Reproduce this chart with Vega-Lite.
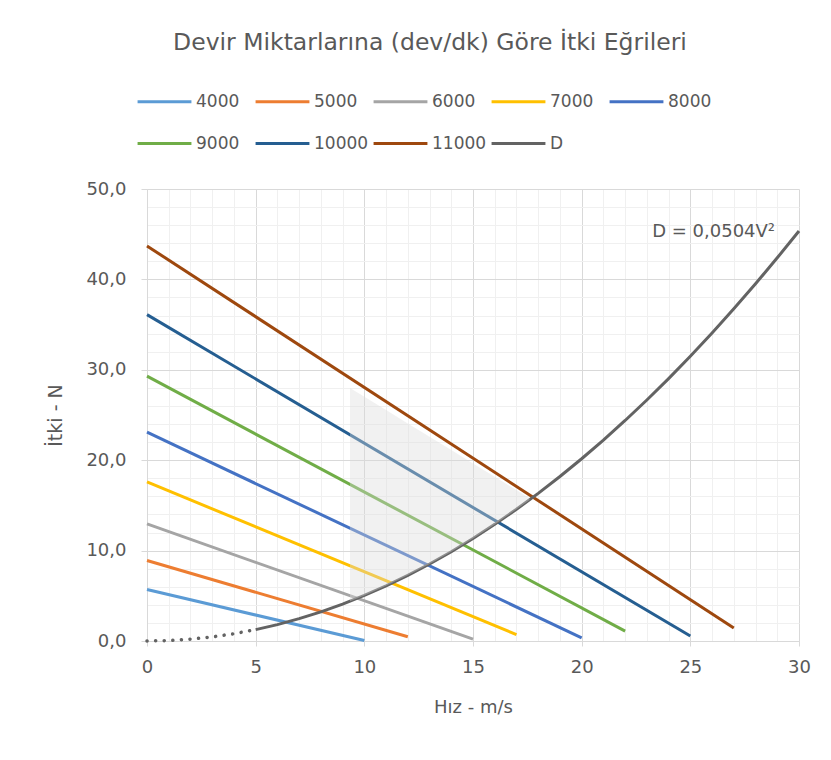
{
  "$schema": "https://vega.github.io/schema/vega-lite/v6.json",
  "width": 652,
  "height": 452,
  "autosize": "none",
  "padding": {"left": 147, "top": 189, "right": 32, "bottom": 119},
  "background": "white",
  "title": {
    "text": "Devir Miktarlarına (dev/dk) Göre İtki Eğrileri",
    "anchor": "middle",
    "frame": "group",
    "dx": -43,
    "fontSize": 23.5,
    "font": "DejaVu Sans",
    "fontWeight": "normal",
    "color": "#595959",
    "offset": 19
  },
  "config": {
    "view": {"stroke": null},
    "font": "DejaVu Sans",
    "axis": {
      "labelFont": "DejaVu Sans",
      "titleFont": "DejaVu Sans",
      "labelColor": "#595959",
      "titleColor": "#595959",
      "labelFontSize": 18,
      "titleFontSize": 18,
      "titleFontWeight": "normal",
      "domainColor": "#d9d9d9",
      "tickColor": "#d9d9d9"
    },
    "legend": {
      "labelFont": "DejaVu Sans",
      "labelFontSize": 17,
      "labelColor": "#595959"
    }
  },
  "datasets": {
    "curves": [
      {"series": "4000", "x": 0, "y": 5.7},
      {"series": "4000", "x": 10, "y": 0.05},
      {"series": "5000", "x": 0, "y": 8.9},
      {"series": "5000", "x": 12, "y": 0.47},
      {"series": "6000", "x": 0, "y": 12.95},
      {"series": "6000", "x": 15, "y": 0.2},
      {"series": "7000", "x": 0, "y": 17.6},
      {"series": "7000", "x": 17, "y": 0.7},
      {"series": "8000", "x": 0, "y": 23.1},
      {"series": "8000", "x": 20, "y": 0.35},
      {"series": "9000", "x": 0, "y": 29.3},
      {"series": "9000", "x": 22, "y": 1.1},
      {"series": "10000", "x": 0, "y": 36.1},
      {"series": "10000", "x": 25, "y": 0.55},
      {"series": "11000", "x": 0, "y": 43.7},
      {"series": "11000", "x": 27, "y": 1.45},
      {"series": "D", "x": 5, "y": 1.26},
      {"series": "D", "x": 6, "y": 1.8144},
      {"series": "D", "x": 7, "y": 2.4696},
      {"series": "D", "x": 8, "y": 3.2256},
      {"series": "D", "x": 9, "y": 4.0824},
      {"series": "D", "x": 10, "y": 5.04},
      {"series": "D", "x": 11, "y": 6.0984},
      {"series": "D", "x": 12, "y": 7.2576},
      {"series": "D", "x": 13, "y": 8.5176},
      {"series": "D", "x": 14, "y": 9.8784},
      {"series": "D", "x": 15, "y": 11.34},
      {"series": "D", "x": 16, "y": 12.9024},
      {"series": "D", "x": 17, "y": 14.5656},
      {"series": "D", "x": 18, "y": 16.3296},
      {"series": "D", "x": 19, "y": 18.1944},
      {"series": "D", "x": 20, "y": 20.16},
      {"series": "D", "x": 21, "y": 22.2264},
      {"series": "D", "x": 22, "y": 24.3936},
      {"series": "D", "x": 23, "y": 26.6616},
      {"series": "D", "x": 24, "y": 29.0304},
      {"series": "D", "x": 25, "y": 31.5},
      {"series": "D", "x": 26, "y": 34.0704},
      {"series": "D", "x": 27, "y": 36.7416},
      {"series": "D", "x": 28, "y": 39.5136},
      {"series": "D", "x": 29, "y": 42.3864},
      {"series": "D", "x": 30, "y": 45.36},
      {"series": "Dd", "x": 0, "y": 0},
      {"series": "Dd", "x": 1, "y": 0.0504},
      {"series": "Dd", "x": 2, "y": 0.2016},
      {"series": "Dd", "x": 3, "y": 0.4536},
      {"series": "Dd", "x": 4, "y": 0.8064},
      {"series": "Dd", "x": 5, "y": 1.26}
    ],
    "shade": [
      {"x": 9.34, "y": 28.0, "bottom": 4.4},
      {"x": 10, "y": 27.02, "bottom": 5.04},
      {"x": 11, "y": 25.55, "bottom": 6.1},
      {"x": 12, "y": 24.07, "bottom": 7.26},
      {"x": 13, "y": 22.6, "bottom": 8.52},
      {"x": 14, "y": 21.12, "bottom": 9.88},
      {"x": 15, "y": 19.64, "bottom": 11.34},
      {"x": 16, "y": 18.17, "bottom": 12.9},
      {"x": 17, "y": 16.69, "bottom": 14.57},
      {"x": 17.6, "y": 15.8, "bottom": 15.61}
    ],
    "note": [
      {"x": 28.9, "y": 45.2, "label": "D = 0,0504V²"}
    ]
  },
  "encoding": {
    "x": {
      "field": "x",
      "type": "quantitative",
      "scale": {"domain": [0, 30], "nice": false},
      "axis": {
        "title": "Hız - m/s",
        "values": [0,1,2,3,4,5,6,7,8,9,10,11,12,13,14,15,16,17,18,19,20,21,22,23,24,25,26,27,28,29,30],
        "labelExpr": "datum.value % 5 === 0 ? datum.label : ''",
        "grid": true,
        "gridColor": {"condition": {"test": "datum.value % 5 === 0", "value": "#d9d9d9"}, "value": "#f0f0f0"},
        "gridWidth": 1,
        "tickSize": 5,
        "tickOpacity": {"condition": {"test": "datum.value % 5 === 0", "value": 1}, "value": 0},
        "labelPadding": 12,
        "labelFlush": false,
        "labelOverlap": false,
        "titleY": 66,
        "titleBaseline": "middle"
      }
    },
    "y": {
      "field": "y",
      "type": "quantitative",
      "scale": {"domain": [0, 50], "nice": false},
      "axis": {
        "title": "İtki - N",
        "values": [0,2,4,6,8,10,12,14,16,18,20,22,24,26,28,30,32,34,36,38,40,42,44,46,48,50],
        "labelExpr": "datum.value % 10 === 0 ? replace(format(datum.value, '.1f'), '.', ',') : ''",
        "grid": true,
        "gridColor": {"condition": {"test": "datum.value % 10 === 0", "value": "#d9d9d9"}, "value": "#f0f0f0"},
        "gridWidth": 1,
        "tickSize": 6,
        "tickOpacity": {"condition": {"test": "datum.value % 10 === 0", "value": 1}, "value": 0},
        "labelPadding": 15,
        "labelFlush": false,
        "labelOverlap": false,
        "titleX": -82,
        "titleFontSize": 19
      }
    }
  },
  "layer": [
    {
      "data": {"name": "curves"},
      "transform": [{"filter": "datum.series !== 'Dd'"}],
      "mark": {"type": "line", "strokeWidth": 3, "clip": false},
      "encoding": {
        "color": {
          "field": "series",
          "type": "nominal",
          "scale": {
            "domain": ["4000", "5000", "6000", "7000", "8000", "9000", "10000", "11000", "D"],
            "range": ["#5B9BD5", "#ED7D31", "#A5A5A5", "#FFC000", "#4472C4", "#70AD47", "#255E91", "#9E480E", "#636363"]
          },
          "legend": {
            "title": null,
            "orient": "none",
            "legendX": -11,
            "legendY": -116,
            "direction": "horizontal",
            "columns": 5,
            "gridAlign": "all",
            "symbolType": "stroke",
            "symbolSize": 2900,
            "symbolStrokeWidth": 3,
            "labelOffset": 3,
            "columnPadding": -2,
            "rowPadding": 5
          }
        }
      }
    },
    {
      "data": {"name": "curves"},
      "transform": [{"filter": "datum.series === 'Dd'"}],
      "mark": {"type": "line", "strokeWidth": 3.5, "stroke": "#636363", "strokeDash": [0.1, 8.5], "strokeCap": "round"}
    },
    {
      "data": {"name": "shade"},
      "mark": {"type": "area", "color": "#d9d9d9", "opacity": 0.38},
      "encoding": {
        "y2": {"field": "bottom"}
      }
    },
    {
      "data": {"name": "note"},
      "mark": {"type": "text", "align": "right", "baseline": "middle", "fontSize": 18, "color": "#595959", "font": "DejaVu Sans"},
      "encoding": {
        "text": {"field": "label"}
      }
    }
  ]
}
